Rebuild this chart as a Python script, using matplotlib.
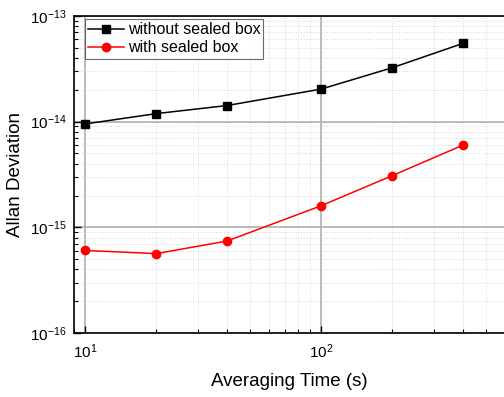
import matplotlib
matplotlib.use("Agg")
import matplotlib.pyplot as plt
from matplotlib.ticker import LogLocator, NullFormatter, FuncFormatter, FixedLocator
import numpy as np

plt.rcParams['font.family'] = ['Liberation Sans', 'DejaVu Sans']
plt.rcParams['mathtext.fontset'] = 'custom'
plt.rcParams['mathtext.rm'] = 'Liberation Sans'
plt.rcParams['mathtext.it'] = 'Liberation Sans:italic'

# averaging times (s)
tau = [10, 20, 40, 100, 200, 400]
# Allan deviation, two set-ups
adev_open = [9.5e-15, 1.19e-14, 1.42e-14, 2.03e-14, 3.23e-14, 5.5e-14]
adev_box = [6.05e-16, 5.64e-16, 7.43e-16, 1.6e-15, 3.08e-15, 6.0e-15]

x_major = [10, 100]
y_major = [1e-16, 1e-15, 1e-14, 1e-13]

fig = plt.figure(figsize=(5.04, 3.97), dpi=100)
ax = fig.add_axes([0.147, 0.161, 0.853, 0.799])

ax.plot(tau, adev_open, '-s', color='black', lw=1.1, ms=6, label='without sealed box')
ax.plot(tau, adev_box, '-o', color='red', lw=1.1, ms=6, label='with sealed box')

ax.set_xscale('log')
ax.set_yscale('log')
ax.set_xlim(8.98, 596)
ax.set_ylim(1e-16, 1e-13)


def pow10(v, pos):
    return r'$\mathregular{10^{%d}}$' % int(round(np.log10(v)))


ax.xaxis.set_major_locator(FixedLocator(x_major))
ax.yaxis.set_major_locator(FixedLocator(y_major))
ax.xaxis.set_major_formatter(FuncFormatter(pow10))
ax.yaxis.set_major_formatter(FuncFormatter(pow10))
ax.xaxis.set_minor_locator(LogLocator(base=10, subs=range(2, 10)))
ax.yaxis.set_minor_locator(LogLocator(base=10, subs=range(2, 10)))
ax.xaxis.set_minor_formatter(NullFormatter())
ax.yaxis.set_minor_formatter(NullFormatter())

ax.grid(which='major', color='#b4b4b4', lw=1.3)
ax.grid(which='minor', color='#d8d8d8', lw=0.7, ls=':')
ax.set_axisbelow(True)

ax.tick_params(which='both', direction='in', top=False, right=False, labelsize=11)
ax.tick_params(which='major', length=5, width=1)
ax.tick_params(which='minor', length=3, width=0.8)
ax.spines['right'].set_visible(False)
for s in ['left', 'bottom', 'top']:
    ax.spines[s].set_linewidth(1.2)
ax.tick_params(axis='y', pad=5)
ax.tick_params(axis='x', pad=7)

ax.set_xlabel('Averaging Time (s)', fontsize=13.5)
ax.set_ylabel('Allan Deviation', fontsize=13.5)
ax.xaxis.set_label_coords(0.5, -0.125)
ax.yaxis.set_label_coords(-0.116, 0.5)

leg = ax.legend(loc='upper left', bbox_to_anchor=(0.026, 0.99), fontsize=11.5,
                frameon=True, fancybox=False, borderpad=0.2, labelspacing=0.2,
                handlelength=2.2, handletextpad=0.25, borderaxespad=0)
leg.get_frame().set_edgecolor('#444444')
leg.get_frame().set_linewidth(0.8)

fig.savefig('out.png', dpi=100)
